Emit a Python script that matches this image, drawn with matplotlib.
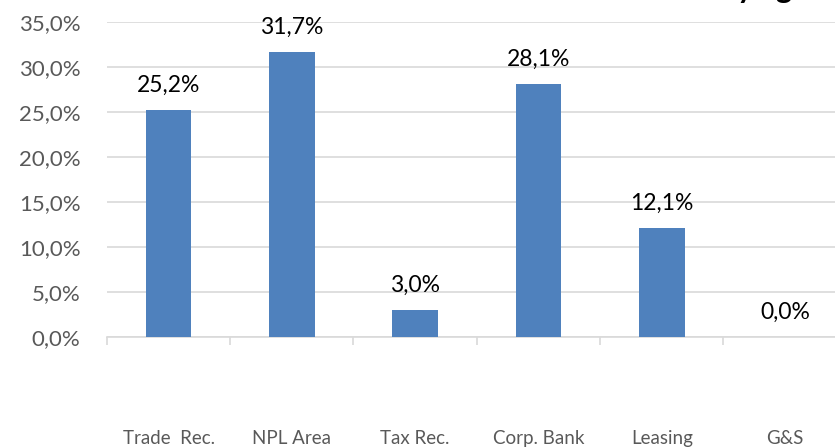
import numpy as np
import matplotlib
matplotlib.use("Agg")
import matplotlib.pyplot as plt

# datos
categorias = ["Trade  Rec.", "NPL Area", "Tax Rec.", "Corp. Bank", "Leasing", "G&S"]
valores = [25.2, 31.7, 3.0, 28.1, 12.1, 0.0]
yticks = [0, 5, 10, 15, 20, 25, 30, 35]

plt.rcParams['font.family'] = ['Lato', 'DejaVu Sans']

fig = plt.figure(figsize=(8.35, 4.47), dpi=100)
ax = fig.add_axes([0.128, 0.246, 0.886, 0.705])

x = np.arange(len(categorias))
barras = ax.bar(x, valores, width=0.37, color="#4f81bd", zorder=3)

# etiquetas de datos
for xi, v in zip(x, valores):
    ax.annotate(f"{v:.1f}%".replace(".", ","), (xi, v), xytext=(0, 10),
                textcoords="offset points", ha="center", va="bottom",
                fontsize=16.5, color="black")

ax.set_xlim(-0.5, len(categorias) - 0.5)
ax.set_ylim(0, 35)
ax.set_yticks(yticks)
ax.set_yticklabels([f"{t:.1f}%".replace(".", ",") for t in yticks],
                   fontsize=16, color="#595959")
ax.tick_params(axis="y", length=0, pad=19)
ax.yaxis.grid(True, color="#d9d9d9", linewidth=1.2, zorder=0)

# ticks del eje x en los limites de categoria, etiquetas en el centro
ax.set_xticks(np.arange(len(categorias) + 1) - 0.5)
ax.set_xticklabels([])
ax.tick_params(axis="x", which="major", length=6, color="#d9d9d9", width=1.2)
ax.set_xticks(x, minor=True)
ax.set_xticklabels(categorias, minor=True, fontsize=13.5, color="#595959")
ax.tick_params(axis="x", which="minor", length=0, pad=67)

for s in ["top", "right", "left"]:
    ax.spines[s].set_visible(False)
ax.spines["bottom"].set_color("#d9d9d9")
ax.spines["bottom"].set_linewidth(1.2)

# titulo cortado arriba (asi aparece en la referencia)
fig.text(0.968, 1 + 2 / 447, "Distribution by age", ha="right", va="baseline",
         fontsize=22, fontweight="bold", color="black")

fig.savefig("out.png", dpi=100)
